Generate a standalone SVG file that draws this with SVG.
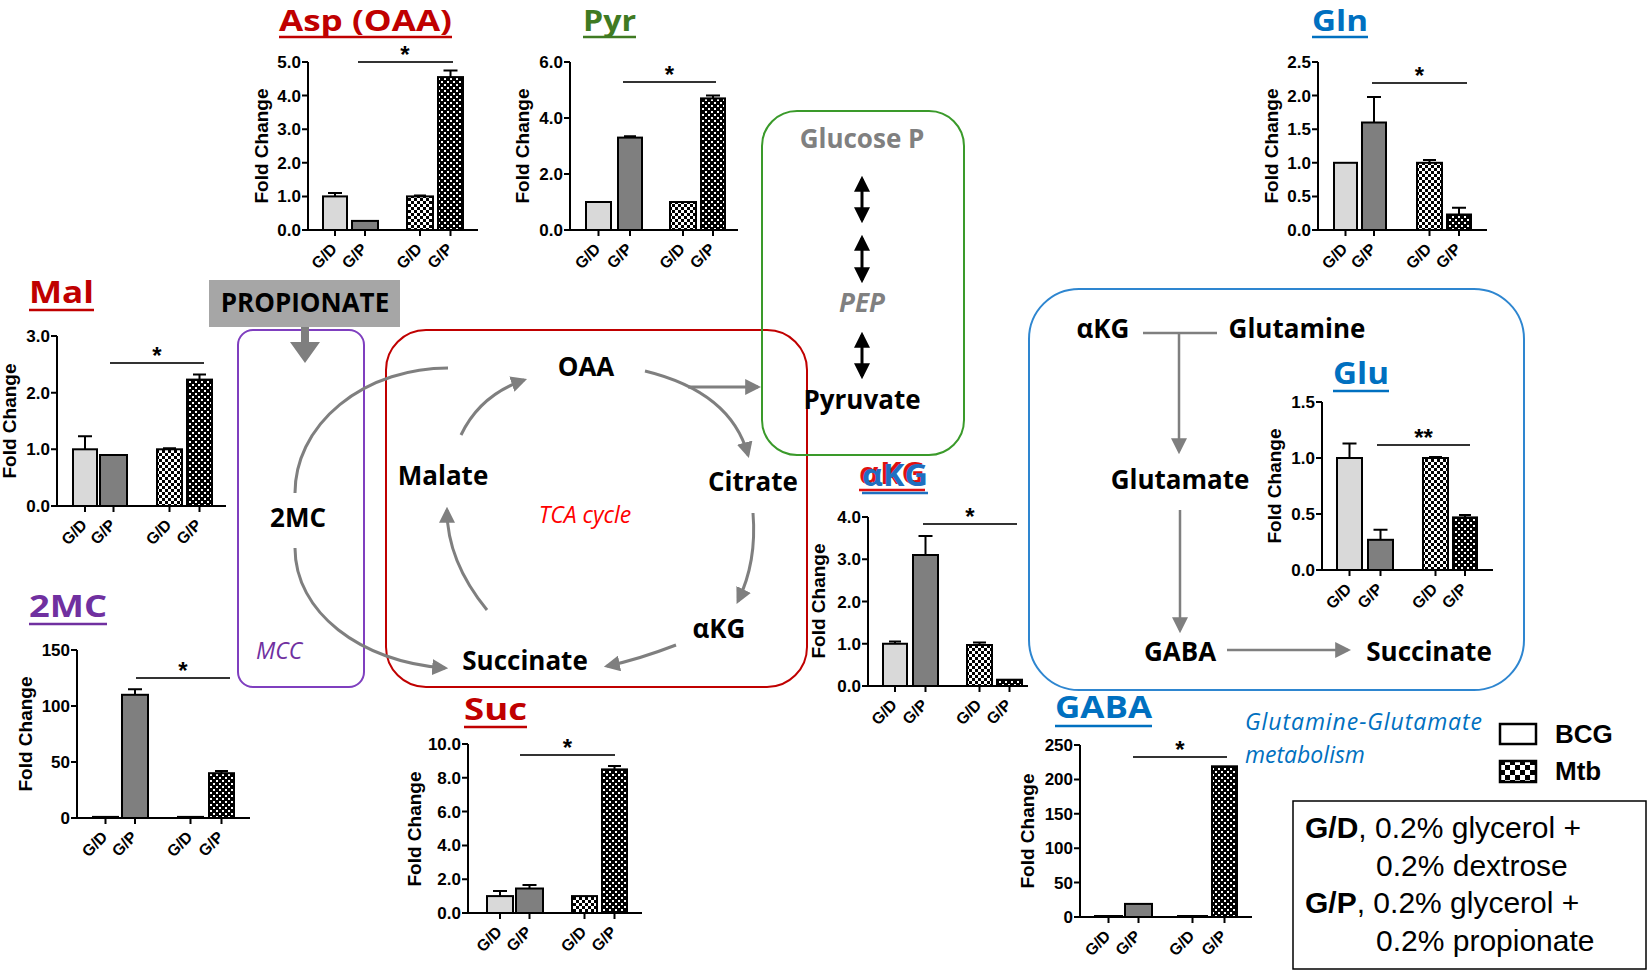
<svg xmlns="http://www.w3.org/2000/svg" width="1650" height="973" viewBox="0 0 1650 973">
<defs>
<style>
.ax{fill:none;stroke:#000;stroke-width:2}
.yl{font-family:"Liberation Sans",Arial,sans-serif;font-weight:bold;font-size:17px;text-anchor:end}
.xl{font-family:"Liberation Sans",Arial,sans-serif;font-weight:bold;font-size:16px;text-anchor:end}
.fc{font-family:"Liberation Sans",Arial,sans-serif;font-weight:bold;font-size:19px;text-anchor:middle}
.bar{stroke:#000;stroke-width:2}
.c1{fill:#d9d9d9}.c2{fill:#7f7f7f}.c3{fill:url(#chkL)}.c4{fill:url(#chkD)}
.eb{fill:none;stroke:#000;stroke-width:2}
.sig{fill:none;stroke:#333;stroke-width:2}
.ast{font-family:"Liberation Sans",Arial,sans-serif;font-weight:bold;font-size:24px;text-anchor:middle}
.ttl{font-family:"Open Sans",sans-serif;font-weight:bold;font-size:30px}
.ttt{font-size:28px}
.ul{stroke-width:2.5;fill:none}
.nd{font-family:"Open Sans",sans-serif;font-weight:bold;font-size:26px;text-anchor:middle;fill:#000}
.it{font-family:"Open Sans",sans-serif;font-style:italic;font-size:23px}
.arr{fill:none;stroke:#7f7f7f;stroke-width:3;marker-end:url(#ag)}
.arb{fill:none;stroke:#7f7f7f;stroke-width:2.5;marker-end:url(#ag)}
.dbl{fill:none;stroke:#000;stroke-width:3;marker-start:url(#ab);marker-end:url(#ab)}
.lg{font-family:"Liberation Sans",Arial,sans-serif;font-size:30px}
.lgb{font-family:"Liberation Sans",Arial,sans-serif;font-weight:bold;font-size:26px}
</style>
<pattern id="chkL" width="6" height="6" patternUnits="userSpaceOnUse"><rect width="6" height="6" fill="#fff"/><rect width="3" height="3" fill="#000"/><rect x="3" y="3" width="3" height="3" fill="#000"/></pattern>
<pattern id="chkD" width="6" height="6" patternUnits="userSpaceOnUse"><rect width="6" height="6" fill="#000"/><rect width="2" height="2" fill="#fff"/><rect x="3" y="3" width="2" height="2" fill="#fff"/></pattern>
<pattern id="chkLeg" width="10" height="10" patternUnits="userSpaceOnUse"><rect width="10" height="10" fill="#fff"/><rect width="5" height="5" fill="#000"/><rect x="5" y="5" width="5" height="5" fill="#000"/></pattern>
<marker id="ag" viewBox="0 0 10 10" refX="8" refY="5" markerWidth="16" markerHeight="16" markerUnits="userSpaceOnUse" orient="auto"><path d="M0,0 L10,5 L0,10 z" fill="#7f7f7f"/></marker>
<marker id="ab" viewBox="0 0 10 10" refX="8" refY="5" markerWidth="16" markerHeight="18" markerUnits="userSpaceOnUse" orient="auto-start-reverse"><path d="M0,0 L10,5 L0,10 z" fill="#000"/></marker>
</defs>
<rect width="1650" height="973" fill="#fff"/>

<!-- region boxes -->
<g id="boxes">
<rect id="mcc-box" x="238" y="330" width="126" height="357" rx="15" fill="none" stroke="#7f3fbf" stroke-width="2"/>
<rect id="tca-box" x="386" y="330" width="421" height="357" rx="40" fill="none" stroke="#c00000" stroke-width="2"/>
<rect id="glyc-box" x="762" y="111" width="202" height="344" rx="35" fill="none" stroke="#3a9a2a" stroke-width="2"/>
<rect id="gln-box" x="1029" y="289" width="495" height="401" rx="50" fill="none" stroke="#2e86d0" stroke-width="2"/>
</g>

<!-- connectors -->
<g id="connectors">
<polygon points="301,327 309,327 309,342 320,342 305,363 290,342 301,342" fill="#7f7f7f"/>
<path d="M448,368 A153,125 0 0 0 295,493" fill="none" stroke="#7f7f7f" stroke-width="3"/>
<path class="arr" d="M295,548 C295,612 360,662 445,668"/>
<path class="arr" d="M461,435 Q480,395 524,380"/>
<path class="arr" d="M645,371 Q731,392 748,455"/>
<path class="arr" d="M688,387 L758,387"/>
<path class="arr" d="M753,513 Q757,562 738,601"/>
<path class="arr" d="M676,645 Q637,660 607,666"/>
<path class="arr" d="M487,610 Q447,561 447,510"/>
<line class="dbl" x1="862" y1="179" x2="862" y2="220"/>
<line class="dbl" x1="862" y1="238" x2="862" y2="280"/>
<line class="dbl" x1="862" y1="335" x2="862" y2="376"/>
<path d="M1143,333 H1217" fill="none" stroke="#7f7f7f" stroke-width="2.5"/>
<path class="arb" d="M1179,333 V451"/>
<path class="arb" d="M1180,510 V630"/>
<path class="arb" d="M1227,650 H1348"/>
</g>

<!-- pathway nodes -->
<g id="propionate"><rect x="209" y="280" width="191" height="47" fill="#a6a6a6"/><text class="nd" x="305" y="312" font-size="25">PROPIONATE</text></g>
<g id="n-2mc"><text class="nd" x="298" y="527">2MC</text></g>
<g id="n-mcc"><text class="it" x="256" y="659" fill="#7030a0">MCC</text></g>
<g id="n-oaa"><text class="nd" x="586" y="376">OAA</text></g>
<g id="n-malate"><text class="nd" x="443" y="485">Malate</text></g>
<g id="n-citrate"><text class="nd" x="753" y="491">Citrate</text></g>
<g id="n-tca"><text class="it" x="585" y="523" fill="#ff0000" text-anchor="middle">TCA cycle</text></g>
<g id="n-akg"><text class="nd" x="719" y="638">αKG</text></g>
<g id="n-succinate"><text class="nd" x="525" y="670">Succinate</text></g>
<g id="n-glucosep"><text class="nd" x="862" y="148" style="fill:#808080">Glucose P</text></g>
<g id="n-pep"><text class="nd" x="862" y="312" style="fill:#808080;font-style:italic" font-size="25">PEP</text></g>
<g id="n-pyruvate"><text class="nd" x="862" y="409">Pyruvate</text></g>
<g id="n-akg2"><text class="nd" x="1103" y="338">αKG</text></g>
<g id="n-glutamine"><text class="nd" x="1297" y="338">Glutamine</text></g>
<g id="n-glutamate"><text class="nd" x="1180" y="489">Glutamate</text></g>
<g id="n-gaba"><text class="nd" x="1180" y="661">GABA</text></g>
<g id="n-succinate2"><text class="nd" x="1429" y="661">Succinate</text></g>
<g id="n-glnglu"><text class="it" x="1245" y="730" fill="#0070c0" textLength="237">Glutamine-Glutamate</text><text class="it" x="1245" y="763" fill="#0070c0">metabolism</text></g>

<!-- chart: Asp -->
<g id="chart-asp">
<text class="ttl ttt" x="279" y="31" fill="#c00000" textLength="173" lengthAdjust="spacingAndGlyphs">Asp (OAA)</text>
<line class="ul" x1="279" y1="37" x2="452" y2="37" stroke="#c00000"/>
<path class="ax" d="M308,62 V230 H478 M302,62h6M302,95.6h6M302,129.2h6M302,162.8h6M302,196.4h6M302,230h6 M335,230v6M365,230v6M420,230v6M450.5,230v6"/>
<text class="yl" x="301" y="68">5.0</text><text class="yl" x="301" y="101.6">4.0</text><text class="yl" x="301" y="135.2">3.0</text><text class="yl" x="301" y="168.8">2.0</text><text class="yl" x="301" y="202.4">1.0</text><text class="yl" x="301" y="236">0.0</text>
<text class="fc" transform="translate(268,146) rotate(-90)">Fold Change</text>
<rect class="bar c1" x="323" y="196.4" width="24" height="33.6"/>
<rect class="bar c2" x="352" y="220.9" width="26" height="9.1"/>
<rect class="bar c3" x="407" y="196.4" width="26" height="33.6"/>
<rect class="bar c4" x="438" y="77.1" width="25" height="152.9"/>
<path class="eb" d="M335,196.4V193M328,193H342 M414,195.6H426 M450.5,77.1V70.4M443.5,70.4H457.5"/>
<path class="sig" d="M358,62H453"/><text class="ast" x="405" y="63">*</text>
<text class="xl" transform="translate(338,250) rotate(-45)">G/D</text><text class="xl" transform="translate(368,250) rotate(-45)">G/P</text><text class="xl" transform="translate(423,250) rotate(-45)">G/D</text><text class="xl" transform="translate(453.5,250) rotate(-45)">G/P</text>
</g>

<!-- chart: Pyr -->
<g id="chart-pyr">
<text class="ttl ttt" x="583" y="31" fill="#3f7a22" textLength="53" lengthAdjust="spacingAndGlyphs">Pyr</text>
<line class="ul" x1="583" y1="37" x2="636" y2="37" stroke="#3f7a22"/>
<path class="ax" d="M570,62 V230 H738 M564,62h6M564,118h6M564,174h6M564,230h6 M598.5,230v6M630,230v6M683,230v6M713,230v6"/>
<text class="yl" x="563" y="68">6.0</text><text class="yl" x="563" y="124">4.0</text><text class="yl" x="563" y="180">2.0</text><text class="yl" x="563" y="236">0.0</text>
<text class="fc" transform="translate(529,146) rotate(-90)">Fold Change</text>
<rect class="bar c1" x="586" y="202" width="25" height="28"/>
<rect class="bar c2" x="618" y="137.6" width="24" height="92.4"/>
<rect class="bar c3" x="670" y="202" width="26" height="28"/>
<rect class="bar c4" x="701" y="98.4" width="24" height="131.6"/>
<path class="eb" d="M624,136.2H636 M713,98.4V95.6M706,95.6H720"/>
<path class="sig" d="M623,82H716"/><text class="ast" x="669.5" y="83">*</text>
<text class="xl" transform="translate(601.5,250) rotate(-45)">G/D</text><text class="xl" transform="translate(633,250) rotate(-45)">G/P</text><text class="xl" transform="translate(686,250) rotate(-45)">G/D</text><text class="xl" transform="translate(716,250) rotate(-45)">G/P</text>
</g>

<!-- chart: Gln -->
<g id="chart-gln">
<text class="ttl ttt" x="1312" y="31" fill="#0070c0" textLength="56" lengthAdjust="spacingAndGlyphs">Gln</text>
<line class="ul" x1="1312" y1="37" x2="1368" y2="37" stroke="#0070c0"/>
<path class="ax" d="M1318,62 V230 H1487 M1312,62h6M1312,95.6h6M1312,129.2h6M1312,162.8h6M1312,196.4h6M1312,230h6 M1345.5,230v6M1374,230v6M1429.5,230v6M1459,230v6"/>
<text class="yl" x="1311" y="68">2.5</text><text class="yl" x="1311" y="101.6">2.0</text><text class="yl" x="1311" y="135.2">1.5</text><text class="yl" x="1311" y="168.8">1.0</text><text class="yl" x="1311" y="202.4">0.5</text><text class="yl" x="1311" y="236">0.0</text>
<text class="fc" transform="translate(1278,146) rotate(-90)">Fold Change</text>
<rect class="bar c1" x="1334" y="162.8" width="23" height="67.2"/>
<rect class="bar c2" x="1362" y="122.5" width="24" height="107.5"/>
<rect class="bar c3" x="1417" y="162.8" width="25" height="67.2"/>
<rect class="bar c4" x="1447" y="214.5" width="24" height="15.5"/>
<path class="eb" d="M1374,122.5V97M1367,97H1381 M1429.5,162.8V160M1423,160H1436 M1459,214.5V207.8M1452,207.8H1466"/>
<path class="sig" d="M1372,83H1467"/><text class="ast" x="1419.5" y="84">*</text>
<text class="xl" transform="translate(1348.5,250) rotate(-45)">G/D</text><text class="xl" transform="translate(1377,250) rotate(-45)">G/P</text><text class="xl" transform="translate(1432.5,250) rotate(-45)">G/D</text><text class="xl" transform="translate(1462,250) rotate(-45)">G/P</text>
</g>

<!-- chart: Mal -->
<g id="chart-mal">
<text class="ttl" x="29" y="303" fill="#c00000" textLength="65" lengthAdjust="spacingAndGlyphs">Mal</text>
<line class="ul" x1="29" y1="310" x2="94" y2="310" stroke="#c00000"/>
<path class="ax" d="M57,336 V506 H226 M51,336h6M51,392.7h6M51,449.3h6M51,506h6 M85,506v6M113.5,506v6M169.5,506v6M199.5,506v6"/>
<text class="yl" x="50" y="342">3.0</text><text class="yl" x="50" y="398.7">2.0</text><text class="yl" x="50" y="455.3">1.0</text><text class="yl" x="50" y="512">0.0</text>
<text class="fc" transform="translate(16,421) rotate(-90)">Fold Change</text>
<rect class="bar c1" x="73" y="449.3" width="24" height="56.7"/>
<rect class="bar c2" x="100" y="455" width="27" height="51"/>
<rect class="bar c3" x="157" y="449.3" width="25" height="56.7"/>
<rect class="bar c4" x="187" y="379.6" width="25" height="126.4"/>
<path class="eb" d="M85,449.3V436.3M78,436.3H92 M163,448.2H176 M199.5,379.6V374.5M193,374.5H206"/>
<path class="sig" d="M110,363H204"/><text class="ast" x="157" y="364">*</text>
<text class="xl" transform="translate(88,526) rotate(-45)">G/D</text><text class="xl" transform="translate(116.5,526) rotate(-45)">G/P</text><text class="xl" transform="translate(172.5,526) rotate(-45)">G/D</text><text class="xl" transform="translate(202.5,526) rotate(-45)">G/P</text>
</g>

<!-- chart: 2MC -->
<g id="chart-2mc">
<text class="ttl" x="29" y="617" fill="#7030a0" textLength="78" lengthAdjust="spacingAndGlyphs">2MC</text>
<line class="ul" x1="29" y1="624" x2="107" y2="624" stroke="#7030a0"/>
<path class="ax" d="M77,650 V818 H250 M71,650h6M71,706h6M71,762h6M71,818h6 M105.5,818v6M135,818v6M190.5,818v6M221.5,818v6"/>
<text class="yl" x="70" y="656">150</text><text class="yl" x="70" y="712">100</text><text class="yl" x="70" y="768">50</text><text class="yl" x="70" y="824">0</text>
<text class="fc" transform="translate(32,734) rotate(-90)">Fold Change</text>
<rect class="bar c1" x="93" y="816.9" width="25" height="1.1"/>
<rect class="bar c2" x="122" y="694.8" width="26" height="123.2"/>
<rect class="bar c3" x="178" y="816.9" width="25" height="1.1"/>
<rect class="bar c4" x="209" y="773.2" width="25" height="44.8"/>
<path class="eb" d="M135,694.8V689.2M128,689.2H142 M221.5,773.2V771M215,771H228"/>
<path class="sig" d="M136,678H230"/><text class="ast" x="183" y="679">*</text>
<text class="xl" transform="translate(108.5,838) rotate(-45)">G/D</text><text class="xl" transform="translate(138,838) rotate(-45)">G/P</text><text class="xl" transform="translate(193.5,838) rotate(-45)">G/D</text><text class="xl" transform="translate(224.5,838) rotate(-45)">G/P</text>
</g>

<!-- chart: Suc -->
<g id="chart-suc">
<text class="ttl" x="464" y="720" fill="#c00000" textLength="63" lengthAdjust="spacingAndGlyphs">Suc</text>
<line class="ul" x1="464" y1="727" x2="527" y2="727" stroke="#c00000"/>
<path class="ax" d="M468,744 V913 H642 M462,744h6M462,777.8h6M462,811.6h6M462,845.4h6M462,879.2h6M462,913h6 M500,913v6M529.5,913v6M584.5,913v6M614.5,913v6"/>
<text class="yl" x="461" y="750">10.0</text><text class="yl" x="461" y="783.8">8.0</text><text class="yl" x="461" y="817.6">6.0</text><text class="yl" x="461" y="851.4">4.0</text><text class="yl" x="461" y="885.2">2.0</text><text class="yl" x="461" y="919">0.0</text>
<text class="fc" transform="translate(421,829) rotate(-90)">Fold Change</text>
<rect class="bar c1" x="487" y="896.1" width="26" height="16.9"/>
<rect class="bar c2" x="516" y="888.5" width="27" height="24.5"/>
<rect class="bar c3" x="572" y="896.1" width="25" height="16.9"/>
<rect class="bar c4" x="602" y="769.4" width="25" height="143.6"/>
<path class="eb" d="M500,896.1V891M493,891H507 M529.5,888.5V885.1M522.5,885.1H536.5 M614.5,769.4V766M608,766H621"/>
<path class="sig" d="M520,755H615"/><text class="ast" x="567.5" y="756">*</text>
<text class="xl" transform="translate(503,933) rotate(-45)">G/D</text><text class="xl" transform="translate(532.5,933) rotate(-45)">G/P</text><text class="xl" transform="translate(587.5,933) rotate(-45)">G/D</text><text class="xl" transform="translate(617.5,933) rotate(-45)">G/P</text>
</g>

<!-- chart: aKG -->
<g id="chart-akg">
<text class="ttl" x="859" y="484" fill="#e01010" textLength="66" lengthAdjust="spacingAndGlyphs">αKG</text>
<text class="ttl" x="862" y="486" fill="#1f6fc0" textLength="66" lengthAdjust="spacingAndGlyphs">αKG</text>
<line class="ul" x1="859" y1="490" x2="925" y2="490" stroke="#e01010"/>
<line class="ul" x1="862" y1="493" x2="928" y2="493" stroke="#1f6fc0"/>
<path class="ax" d="M868,517 V686 H1028 M862,517h6M862,559.25h6M862,601.5h6M862,643.75h6M862,686h6 M895,686v6M925.5,686v6M979.5,686v6M1009.5,686v6"/>
<text class="yl" x="861" y="523">4.0</text><text class="yl" x="861" y="565.25">3.0</text><text class="yl" x="861" y="607.5">2.0</text><text class="yl" x="861" y="649.75">1.0</text><text class="yl" x="861" y="692">0.0</text>
<text class="fc" transform="translate(825,601) rotate(-90)">Fold Change</text>
<rect class="bar c1" x="883" y="643.75" width="24" height="42.25"/>
<rect class="bar c2" x="913" y="555" width="25" height="131"/>
<rect class="bar c3" x="967" y="645" width="25" height="41"/>
<rect class="bar c4" x="997" y="679.7" width="25" height="6.3"/>
<path class="eb" d="M895,643.75V641.6M889,641.6H901 M925.5,555V536M918.5,536H932.5 M979.5,645V642.5M973,642.5H986"/>
<path class="sig" d="M923,524H1017"/><text class="ast" x="970" y="525">*</text>
<text class="xl" transform="translate(898,706) rotate(-45)">G/D</text><text class="xl" transform="translate(928.5,706) rotate(-45)">G/P</text><text class="xl" transform="translate(982.5,706) rotate(-45)">G/D</text><text class="xl" transform="translate(1012.5,706) rotate(-45)">G/P</text>
</g>

<!-- chart: GABA -->
<g id="chart-gaba">
<text class="ttl" x="1055" y="718" fill="#0070c0" textLength="97" lengthAdjust="spacingAndGlyphs">GABA</text>
<line class="ul" x1="1055" y1="726" x2="1152" y2="726" stroke="#0070c0"/>
<path class="ax" d="M1080,745 V917 H1252 M1074,745h6M1074,779.4h6M1074,813.8h6M1074,848.2h6M1074,882.6h6M1074,917h6 M1108.5,917v6M1138.5,917v6M1192.5,917v6M1224.5,917v6"/>
<text class="yl" x="1073" y="751">250</text><text class="yl" x="1073" y="785.4">200</text><text class="yl" x="1073" y="819.8">150</text><text class="yl" x="1073" y="854.2">100</text><text class="yl" x="1073" y="888.6">50</text><text class="yl" x="1073" y="923">0</text>
<text class="fc" transform="translate(1034,831) rotate(-90)">Fold Change</text>
<rect class="bar c1" x="1095" y="916" width="27" height="1"/>
<rect class="bar c2" x="1125" y="903.9" width="27" height="13.1"/>
<rect class="bar c3" x="1178" y="916" width="29" height="1"/>
<rect class="bar c4" x="1212" y="766.3" width="25" height="150.7"/>
<path class="sig" d="M1133,757H1227"/><text class="ast" x="1180" y="758">*</text>
<text class="xl" transform="translate(1111.5,937) rotate(-45)">G/D</text><text class="xl" transform="translate(1141.5,937) rotate(-45)">G/P</text><text class="xl" transform="translate(1195.5,937) rotate(-45)">G/D</text><text class="xl" transform="translate(1227.5,937) rotate(-45)">G/P</text>
</g>

<!-- chart: Glu -->
<g id="chart-glu">
<text class="ttl" x="1333" y="384" fill="#0070c0" textLength="56" lengthAdjust="spacingAndGlyphs">Glu</text>
<line class="ul" x1="1333" y1="391" x2="1389" y2="391" stroke="#0070c0"/>
<path class="ax" d="M1322,402 V570 H1493 M1316,402h6M1316,458h6M1316,514h6M1316,570h6 M1349.5,570v6M1380.5,570v6M1435.5,570v6M1465,570v6"/>
<text class="yl" x="1315" y="408">1.5</text><text class="yl" x="1315" y="464">1.0</text><text class="yl" x="1315" y="520">0.5</text><text class="yl" x="1315" y="576">0.0</text>
<text class="fc" transform="translate(1281,486) rotate(-90)">Fold Change</text>
<rect class="bar c1" x="1337" y="458" width="25" height="112"/>
<rect class="bar c2" x="1368" y="539.8" width="25" height="30.2"/>
<rect class="bar c3" x="1423" y="458" width="25" height="112"/>
<rect class="bar c4" x="1453" y="517.4" width="24" height="52.6"/>
<path class="eb" d="M1349.5,458V443.4M1342.5,443.4H1356.5 M1380.5,539.8V529.7M1373.5,529.7H1387.5 M1429,457H1442 M1465,517.4V515.1M1459,515.1H1471"/>
<path class="sig" d="M1377,445H1470"/><text class="ast" x="1423.5" y="446">**</text>
<text class="xl" transform="translate(1352.5,590) rotate(-45)">G/D</text><text class="xl" transform="translate(1383.5,590) rotate(-45)">G/P</text><text class="xl" transform="translate(1438.5,590) rotate(-45)">G/D</text><text class="xl" transform="translate(1468,590) rotate(-45)">G/P</text>
</g>

<!-- legend -->
<g id="legend">
<rect x="1500" y="724" width="36" height="20" fill="#fff" stroke="#000" stroke-width="2.5"/>
<text class="lgb" x="1555" y="743">BCG</text>
<rect x="1500" y="761" width="36" height="21" fill="url(#chkLeg)" stroke="#000" stroke-width="2.5"/>
<text class="lgb" x="1555" y="780">Mtb</text>
</g>
<g id="conditions">
<rect x="1293" y="801" width="353" height="168" fill="#fff" stroke="#000" stroke-width="1.5"/>
<text class="lg" x="1305" y="838"><tspan font-weight="bold">G/D</tspan>, 0.2% glycerol +</text>
<text class="lg" x="1376" y="876">0.2% dextrose</text>
<text class="lg" x="1305" y="913"><tspan font-weight="bold">G/P</tspan>, 0.2% glycerol +</text>
<text class="lg" x="1376" y="951">0.2% propionate</text>
</g>
</svg>
